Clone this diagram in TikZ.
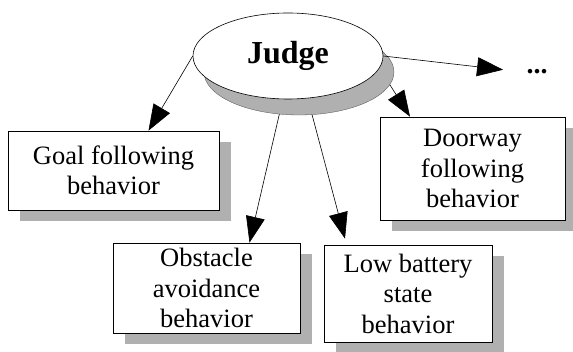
\documentclass[tikz,border=0pt]{standalone}
\usepackage{fontspec}
\setmainfont{Liberation Serif}
\usetikzlibrary{calc,shapes.geometric,shadows,arrows.meta}

\tikzset{
  judgeback/.style={ellipse, minimum width=190pt, minimum height=86pt,
    fill=gray!62, draw=gray!60!black, line width=0.3pt},
  judgenode/.style={ellipse, minimum width=190pt, minimum height=86pt,
    draw, fill=white, line width=0.6pt, font=\fontsize{32}{36}\selectfont\bfseries},
  behav/.style={draw, fill=white, line width=0.7pt, align=center, inner sep=0pt,
    font=\fontsize{26.5}{30.5}\selectfont,
    drop shadow={shadow xshift=12pt, shadow yshift=-11pt, fill=gray!62, opacity=1}},
  arr/.style={line width=0.6pt, -{Triangle[length=26pt,width=19pt]}},
}

\begin{document}
\begin{tikzpicture}[x=1pt,y=-1pt]
\useasboundingbox (0,0) rectangle (573,352);

% the judge
\node[judgeback] (jback) at (299,72) {};
\node[judgenode] (judge) at (288,56) {Judge};

% behaviors
\node[behav, minimum width=211pt, minimum height=79pt] (goal) at (113.5,170.5) {Goal following\\behavior};
\node[behav, minimum width=185pt, minimum height=103pt] (door) at (472.5,168.5) {Doorway\\following\\behavior};
\node[behav, minimum width=187pt, minimum height=90pt] (obst) at (206.5,288) {Obstacle\\avoidance\\behavior};
\node[behav, minimum width=168pt, minimum height=97pt] (low) at (408,293.5) {Low battery\\state\\behavior};

\node[font=\fontsize{28}{30}\selectfont\bfseries] (more) at (537,72) {...};

% arrows
\draw[arr] (judge.west) -- ($(goal.north)+(35,0)$);
\draw[arr] (jback.245) -- ($(obst.north)+(43,0)$);
\draw[arr] (jback.287) -- ($(low.north)+(-63,-6)$);
\draw[arr] (jback.-8) -- ($(door.north)+(-62.5,0)$);
\draw[arr, shorten >=20pt] (judge.east) -- (more.west);
\end{tikzpicture}
\end{document}
